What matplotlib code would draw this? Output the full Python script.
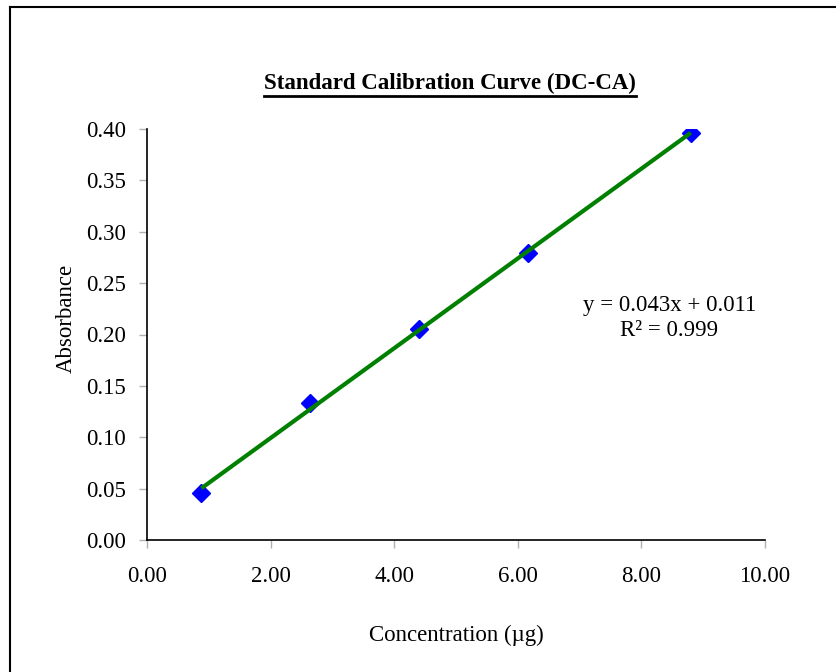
import numpy as np
import matplotlib
matplotlib.use("Agg")
import matplotlib.pyplot as plt
from matplotlib.lines import Line2D

plt.rcParams["font.family"] = ["Liberation Serif", "DejaVu Serif"]

# calibration data
concentration = [0.88, 2.64, 4.40, 6.16, 8.80]
absorbance = [0.046, 0.133, 0.205, 0.279, 0.396]
x_ticks = [0, 2, 4, 6, 8, 10]
y_ticks = [0.00, 0.05, 0.10, 0.15, 0.20, 0.25, 0.30, 0.35, 0.40]
equation_text = "y = 0.043x + 0.011\nR² = 0.999"

FS = 16.5

fig = plt.figure(figsize=(8.36, 6.72), dpi=100)
ax = fig.add_axes([147 / 836, 1 - 540 / 672, 618 / 836, 411 / 672])

# linear trendline over the data range
slope, intercept = np.polyfit(concentration, absorbance, 1)
xs = np.array([min(concentration), max(concentration)])
ax.plot(xs, slope * xs + intercept, color="#008000", lw=3, zorder=3, solid_capstyle="butt")
ax.plot(concentration, absorbance, linestyle="none", marker="D", ms=9,
        color="#0000ff", zorder=2)

ax.set_xlim(0, 10)
ax.set_ylim(0, 0.40)
ax.set_xticks(x_ticks)
ax.set_yticks(y_ticks)
ax.set_xticklabels([f"{v:.2f}" for v in x_ticks])
ax.set_yticklabels([f"{v:.2f}" for v in y_ticks])
ax.tick_params(direction="out", length=6, width=1, color="#b0b0b0",
               labelsize=FS)
ax.tick_params(axis="y", pad=9)
ax.tick_params(axis="x", pad=13)
for side in ("top", "right"):
    ax.spines[side].set_visible(False)
for side in ("left", "bottom"):
    ax.spines[side].set_linewidth(1.2)

ax.set_xlabel("Concentration (µg)", fontsize=FS)
ax.xaxis.set_label_coords(0.5, -0.207)
ax.set_ylabel("Absorbance", fontsize=FS)
ax.yaxis.set_label_coords(-0.113, 0.54)

ax.text(0.845, 0.54, equation_text, transform=ax.transAxes, ha="center",
        va="center", fontsize=FS, linespacing=1.2)

title = fig.text(450 / 836, 1 - 83 / 672, "Standard Calibration Curve (DC-CA)",
                 ha="center", va="center", fontsize=FS, fontweight="bold")

# underline the title
fig.canvas.draw()
bb = title.get_window_extent().transformed(fig.transFigure.inverted())
fig.add_artist(Line2D([bb.x0, bb.x1], [bb.y0 - 0.003, bb.y0 - 0.003],
                      color="black", lw=2))

# chart frame (only top and left edges fall inside the image)
fig.add_artist(Line2D([9.5 / 836, 1.01], [1 - 7 / 672, 1 - 7 / 672], color="black", lw=1.5))
fig.add_artist(Line2D([9.5 / 836, 9.5 / 836], [-0.01, 1 - 7 / 672], color="black", lw=1.5))

fig.savefig("out.png", dpi=100)
